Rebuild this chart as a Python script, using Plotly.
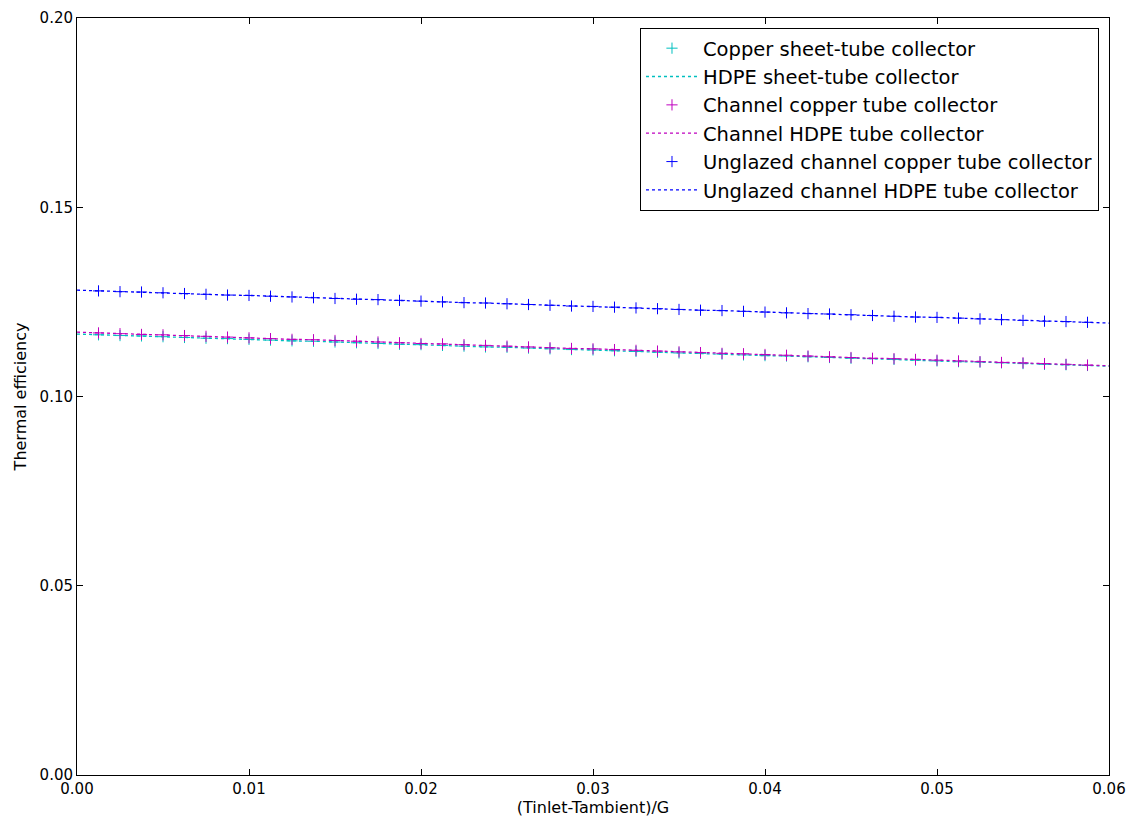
import plotly.graph_objects as go

# x grid: (Tinlet-Tambient)/G
x_vals = [0.0, 0.00125, 0.0025, 0.00375, 0.005, 0.00625, 0.0075, 0.00875, 0.01, 0.01125,
          0.0125, 0.01375, 0.015, 0.01625, 0.0175, 0.01875, 0.02, 0.02125, 0.0225, 0.02375,
          0.025, 0.02625, 0.0275, 0.02875, 0.03, 0.03125, 0.0325, 0.03375, 0.035, 0.03625,
          0.0375, 0.03875, 0.04, 0.04125, 0.0425, 0.04375, 0.045, 0.04625, 0.0475, 0.04875,
          0.05, 0.05125, 0.0525, 0.05375, 0.055, 0.05625, 0.0575, 0.05875, 0.06]

sheet_tube = [0.1165, 0.1163, 0.1161, 0.1160, 0.1158, 0.1156, 0.1154, 0.1153, 0.1151, 0.1149,
              0.1147, 0.1146, 0.1144, 0.1142, 0.1140, 0.1138, 0.1137, 0.1135, 0.1133, 0.1131,
              0.1130, 0.1128, 0.1126, 0.1124, 0.1123, 0.1121, 0.1119, 0.1117, 0.1115, 0.1114,
              0.1112, 0.1110, 0.1108, 0.1107, 0.1105, 0.1103, 0.1101, 0.1100, 0.1098, 0.1096,
              0.1094, 0.1092, 0.1091, 0.1089, 0.1087, 0.1085, 0.1084, 0.1082, 0.1080]

channel_tube = [0.1170, 0.1168, 0.1166, 0.1164, 0.1163, 0.1161, 0.1159, 0.1157, 0.1155, 0.1153,
                0.1151, 0.1150, 0.1148, 0.1146, 0.1144, 0.1142, 0.1140, 0.1139, 0.1137, 0.1135,
                0.1133, 0.1131, 0.1129, 0.1127, 0.1126, 0.1124, 0.1122, 0.1120, 0.1118, 0.1116,
                0.1114, 0.1113, 0.1111, 0.1109, 0.1107, 0.1105, 0.1103, 0.1101, 0.1100, 0.1098,
                0.1096, 0.1094, 0.1092, 0.1090, 0.1089, 0.1087, 0.1085, 0.1083, 0.1081]

unglazed_tube = [0.1281, 0.1279, 0.1277, 0.1276, 0.1274, 0.1272, 0.1270, 0.1268, 0.1267, 0.1265,
                 0.1263, 0.1261, 0.1259, 0.1257, 0.1256, 0.1254, 0.1252, 0.1250, 0.1248, 0.1247,
                 0.1245, 0.1243, 0.1241, 0.1239, 0.1238, 0.1236, 0.1234, 0.1232, 0.1230, 0.1228,
                 0.1227, 0.1225, 0.1223, 0.1221, 0.1219, 0.1218, 0.1216, 0.1214, 0.1212, 0.1210,
                 0.1209, 0.1207, 0.1205, 0.1203, 0.1201, 0.1199, 0.1198, 0.1196, 0.1194]

series = [
    ("Copper sheet-tube collector", "HDPE sheet-tube collector", sheet_tube, "#00BFBF"),
    ("Channel copper tube collector", "Channel HDPE tube collector", channel_tube, "#BF00BF"),
    ("Unglazed channel copper tube collector", "Unglazed channel HDPE tube collector", unglazed_tube, "#0000FF"),
]

fig = go.Figure()
for i, (copper_name, hdpe_name, ys, col) in enumerate(series):
    fig.add_trace(go.Scatter(
        x=x_vals[1:-1], y=ys[1:-1], mode="markers", name=copper_name,
        legendgroup="c%d" % i,
        marker=dict(symbol="cross-thin", size=8, line=dict(color=col, width=1), color=col),
    ))
    fig.add_trace(go.Scatter(
        x=x_vals, y=ys, mode="lines", name=hdpe_name,
        legendgroup="h%d" % i,
        line=dict(color=col, width=1.3, dash="dot"),
    ))

axis_common = dict(
    showgrid=False, zeroline=False, showline=True, linecolor="black", linewidth=1,
    mirror="ticks", ticks="inside", ticklen=6, tickcolor="black", automargin=False,
    tickfont=dict(family="DejaVu Sans", size=15, color="black"),
)

fig.update_layout(
    width=1133, height=825,
    margin=dict(l=77, r=24, t=18, b=50),
    paper_bgcolor="white", plot_bgcolor="white",
    font=dict(family="DejaVu Sans", color="black"),
    xaxis=dict(range=[0, 0.06], tickvals=[0, 0.01, 0.02, 0.03, 0.04, 0.05, 0.06],
               tickformat=".2f",
               title=dict(text="(Tinlet-Tambient)/G", font=dict(size=16), standoff=4),
               **axis_common),
    yaxis=dict(range=[0, 0.2], tickvals=[0, 0.05, 0.1, 0.15, 0.2], tickformat=".2f",
               title=dict(text="Thermal efficiency", font=dict(size=16), standoff=8),
               **axis_common),
    showlegend=True,
    legend=dict(x=0.9903, xanchor="right", y=0.9868, yanchor="top",
                bordercolor="black", borderwidth=1, bgcolor="white",
                font=dict(family="DejaVu Sans", size=19.5, color="black"),
                tracegroupgap=0, itemwidth=52),
)

fig.write_html("out.html")
